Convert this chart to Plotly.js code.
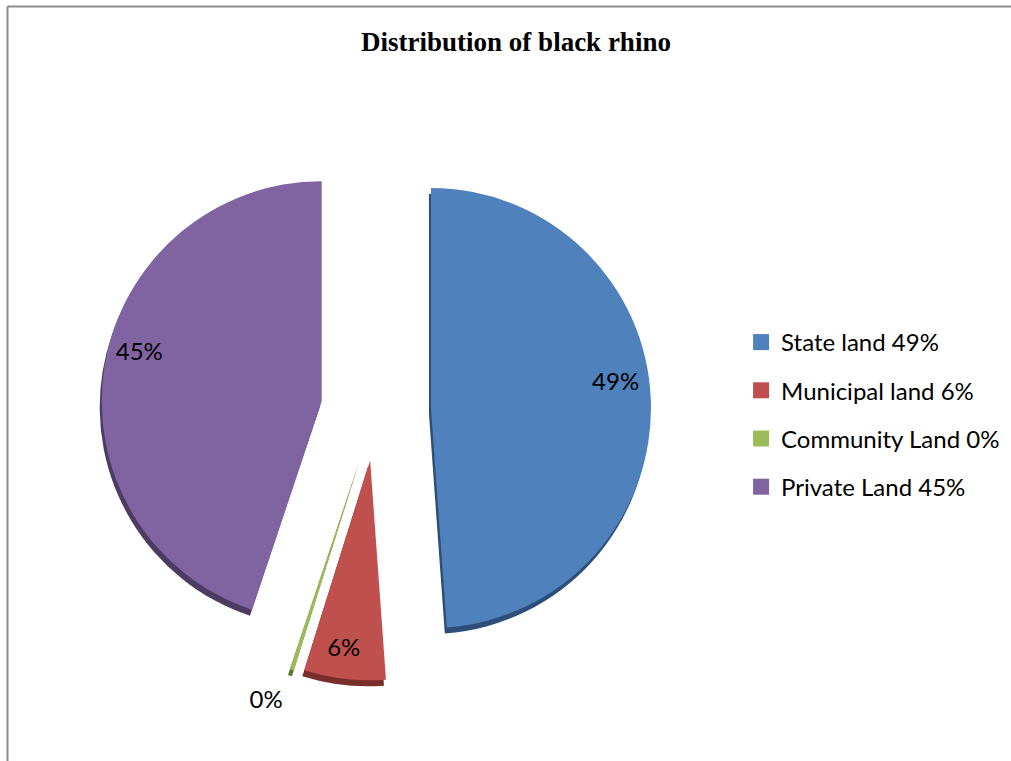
<!DOCTYPE html>
<html>
<head>
<meta charset="utf-8">
<script src="https://cdn.plot.ly/plotly-3.0.1.min.js"></script>
<style>html,body{margin:0;padding:0;background:#fff;} #chart{width:1011px;height:761px;}</style>
</head>
<body>
<div id="chart"></div>
<script>
// ---- data ----
const categories = ["State land", "Municipal land", "Community Land", "Private Land"];
const legendLabels = ["State land 49%", "Municipal land 6%", "Community Land 0%", "Private Land 45%"];
const shareValues = [49, 6, 0.3, 45];
const sliceColors = ["#4F81BD", "#C0504D", "#9BBB59", "#8064A2"];
const sideColors = ["#2E4E78", "#7A2E2C", "#5E7633", "#4C3B63"];
const pulls = [0.25, 0.23, 0.24, 0.25];

const W = 1011, H = 761;
// main pie domain (px)
const cx = 376, cy = 410, side = 550;
function dom(dx, dy) {
  return {
    x: [(cx + dx - side / 2) / W, (cx + dx + side / 2) / W],
    y: [1 - (cy + dy + side / 2) / H, 1 - (cy + dy - side / 2) / H]
  };
}

const labelFont = { family: "Lato, 'Open Sans', sans-serif", size: 24, color: "#000" };
const clear = categories.map(() => "rgba(0,0,0,0)");

const depthPie = {
  type: "pie",
  labels: categories,
  values: shareValues,
  sort: false,
  direction: "clockwise",
  rotation: 0,
  pull: pulls,
  domain: dom(-2, 6),
  marker: { colors: sideColors, line: { width: 0 } },
  textinfo: "none",
  hoverinfo: "skip",
  showlegend: false
};

const mainPie = {
  type: "pie",
  labels: categories,
  values: shareValues,
  sort: false,
  direction: "clockwise",
  rotation: 0,
  pull: pulls,
  domain: dom(0, 0),
  marker: { colors: sliceColors, line: { width: 0 } },
  textinfo: "none",
  showlegend: false
};

// transparent rings carrying the percentage labels (3-D perspective offsets)
function labelPie(showIdx, dx, dy) {
  return {
    type: "pie",
    labels: categories,
    values: shareValues,
    sort: false,
    direction: "clockwise",
    rotation: 0,
    pull: pulls,
    hole: 0.68,
    domain: dom(dx, dy),
    marker: { colors: clear, line: { width: 0 } },
    texttemplate: categories.map((c, i) => showIdx.includes(i) ? "%{percent:.0%}" : ""),
    textposition: ["inside", "inside", "outside", "inside"],
    insidetextorientation: "horizontal",
    textfont: labelFont,
    insidetextfont: labelFont,
    outsidetextfont: labelFont,
    hoverinfo: "skip",
    showlegend: false
  };
}

const legendTraces = legendLabels.map((name, i) => ({
  type: "scatter",
  mode: "markers",
  x: [null], y: [null],
  name: name,
  legendgroup: "g" + i,
  marker: { symbol: "square", size: 16, color: sliceColors[i] },
  showlegend: true,
  hoverinfo: "skip"
}));

const layout = {
  width: W, height: H,
  margin: { l: 0, r: 0, t: 0, b: 0 },
  paper_bgcolor: "#fff",
  plot_bgcolor: "#fff",
  title: {
    text: "<b>Distribution of black rhino</b>",
    x: 516 / W, xanchor: "center",
    y: 1 - 42 / H, yanchor: "middle",
    font: { family: "'Liberation Serif', 'Times New Roman', serif", size: 27, color: "#000" }
  },
  xaxis: { visible: false },
  yaxis: { visible: false },
  showlegend: true,
  legend: {
    x: 0.733, xanchor: "left",
    y: 1 - 320 / H, yanchor: "top",
    tracegroupgap: 14,
    font: { family: "Lato, 'Open Sans', sans-serif", size: 24, color: "#000" },
    bgcolor: "rgba(0,0,0,0)"
  },
  shapes: [
    { type: "line", xref: "paper", yref: "paper", x0: 7.5 / W, x1: 1, y0: 1 - 6.5 / H, y1: 1 - 6.5 / H, line: { color: "#8c8c8c", width: 2 } },
    { type: "line", xref: "paper", yref: "paper", x0: 7.5 / W, x1: 7.5 / W, y0: 0, y1: 1 - 6.5 / H, line: { color: "#8c8c8c", width: 2 } }
  ]
};

const traces = [
  depthPie, mainPie,
  labelPie([0, 3], 0, -21),
  labelPie([1], -5, 2),
  labelPie([2], -2, 16)
].concat(legendTraces);

Plotly.newPlot("chart", traces, layout, { displayModeBar: false, staticPlot: true });
</script>
</body>
</html>
